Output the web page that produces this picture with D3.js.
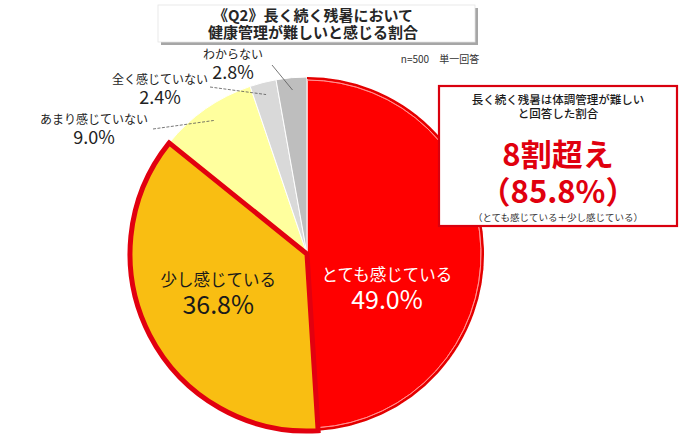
<!DOCTYPE html>
<html>
<head>
<meta charset="utf-8">
<script src="https://cdn.jsdelivr.net/npm/d3@7"></script>
<style>
  body { margin: 0; background: #fff; }
  svg { display: block; font-family: "Noto Sans CJK JP", "Noto Sans", sans-serif; }
</style>
</head>
<body>
<div id="chart"></div>
<script>
// chart data
const categories = ["とても感じている", "少し感じている", "あまり感じていない", "全く感じていない", "わからない"];
const values = [49.0, 36.8, 9.0, 2.4, 2.8];
const titleLines = ["《Q2》長く続く残暑において", "健康管理が難しいと感じる割合"];
const noteText = "n=500　単一回答";
const calloutLines = ["長く続く残暑は体調管理が難しい", "と回答した割合"];
const calloutBig = ["8割超え", "（85.8%）"];
const calloutSub = "（とても感じている＋少し感じている）";

var width = 680, height = 438;
var cx = 307, cy = 254, r = 177;

var svg = d3.select("#chart")
  .append("svg")
  .attr("width", width)
  .attr("height", height);

var color = d3.scaleOrdinal()
  .domain(categories)
  .range(["#FF0000", "#F9BE12", "#FFFF9E", "#D9D9D9", "#BEBEBE"]);

var pie = d3.pie().sort(null).value(d => d.value);
var arcs = pie(categories.map((c, i) => ({name: c, value: values[i]})));

var arc = d3.arc().innerRadius(0).outerRadius(r);

var g = svg.append("g")
  .attr("transform", "translate(" + cx + "," + cy + ")");

// slices
g.selectAll("path.slice")
  .data(arcs)
  .enter()
  .append("path")
  .attr("class", "slice")
  .attr("d", arc)
  .attr("fill", d => color(d.data.name))
  .attr("stroke", "#fff")
  .attr("stroke-width", 1);

// subtle rim on the big red slice
g.append("path")
  .attr("d", d3.arc().innerRadius(r - 3).outerRadius(r - 3)(arcs[0]))
  .attr("fill", "none")
  .attr("stroke", "#ff9a9a")
  .attr("stroke-width", 0.8);
g.append("path")
  .attr("d", d3.arc().innerRadius(r - 1).outerRadius(r - 1)(arcs[0]))
  .attr("fill", "none")
  .attr("stroke", "#e20000")
  .attr("stroke-width", 2);

// highlight outline on 少し感じている
g.append("path")
  .attr("d", arc(arcs[1]))
  .attr("fill", "none")
  .attr("stroke", "#E2000F")
  .attr("stroke-width", 5)
  .attr("stroke-linejoin", "miter");

// inside labels
var inner = [
  {i: 0, rad: 80, dy: 30, fill: "#fff"},
  {i: 1, rad: 100, dy: -14, fill: "#1a1a1a"}
];
inner.forEach(o => {
  var a = arcs[o.i];
  var p = d3.arc().innerRadius(o.rad).outerRadius(o.rad).centroid(a);
  g.append("text")
    .attr("x", p[0]).attr("y", p[1] + o.dy)
    .attr("text-anchor", "middle")
    .attr("fill", o.fill)
    .attr("font-size", 16.5)
    .text(a.data.name);
  g.append("text")
    .attr("x", p[0]).attr("y", p[1] + o.dy + 28)
    .attr("text-anchor", "middle")
    .attr("fill", o.fill)
    .attr("font-size", 25)
    .text(d3.format(".1f")(a.data.value) + "%");
});

// outside labels with leader lines
var outer = [
  {i: 2, lx: 94, ly: 124, ex: 153, ey: 129, rr: 0.92},
  {i: 3, lx: 160, ly: 84, ex: 210, ey: 87, rr: 0.93},
  {i: 4, lx: 233, ly: 59, ex: 272, ey: 65, rr: 0.93}
];
outer.forEach(o => {
  var a = arcs[o.i];
  var p = d3.arc().innerRadius(r * o.rr).outerRadius(r * o.rr).centroid(a);
  svg.append("line")
    .attr("x1", o.ex).attr("y1", o.ey)
    .attr("x2", cx + p[0]).attr("y2", cy + p[1])
    .attr("stroke", "#555")
    .attr("stroke-width", 0.8)
    .attr("stroke-dasharray", o.i === 4 ? null : "3,1.5");
  svg.append("text")
    .attr("x", o.lx).attr("y", o.ly)
    .attr("text-anchor", "middle")
    .attr("font-size", 12)
    .attr("fill", "#222")
    .text(a.data.name);
  svg.append("text")
    .attr("x", o.lx).attr("y", o.ly + 20)
    .attr("text-anchor", "middle")
    .attr("font-size", 18)
    .attr("fill", "#222")
    .text(d3.format(".1f")(a.data.value) + "%");
});

// title box
svg.append("rect")
  .attr("x", 161).attr("y", 8)
  .attr("width", 317).attr("height", 37)
  .attr("fill", "#a6a6a6");
svg.append("rect")
  .attr("x", 158).attr("y", 5)
  .attr("width", 317).attr("height", 37)
  .attr("fill", "#fff")
  .attr("stroke", "#e4e4e4")
  .attr("stroke-width", 0.8);
titleLines.forEach((t, i) => {
  svg.append("text")
    .attr("x", 313).attr("y", 21 + i * 17)
    .attr("text-anchor", "middle")
    .attr("font-size", 15)
    .attr("font-weight", 700)
    .attr("fill", "#262626")
    .text(t);
});

svg.append("text")
  .attr("x", 440).attr("y", 63)
  .attr("text-anchor", "middle")
  .attr("font-size", 10)
  .attr("fill", "#333")
  .text(noteText);

// callout box
svg.append("rect")
  .attr("x", 439).attr("y", 86)
  .attr("width", 238).attr("height", 140)
  .attr("fill", "#fff")
  .attr("stroke", "#D9000E")
  .attr("stroke-width", 2.2);
calloutLines.forEach((t, i) => {
  svg.append("text")
    .attr("x", 558).attr("y", 104 + i * 14)
    .attr("text-anchor", "middle")
    .attr("font-size", 11.5)
    .attr("font-weight", 500)
    .attr("fill", "#1a1a1a")
    .text(t);
});
calloutBig.forEach((t, i) => {
  svg.append("text")
    .attr("x", 558).attr("y", 166 + i * 37)
    .attr("text-anchor", "middle")
    .attr("font-size", 31)
    .attr("font-weight", 700)
    .attr("fill", "#E0000E")
    .text(t);
});
svg.append("text")
  .attr("x", 558).attr("y", 221)
  .attr("text-anchor", "middle")
  .attr("font-size", 9.5)
  .attr("fill", "#333")
  .text(calloutSub);
</script>
</body>
</html>
